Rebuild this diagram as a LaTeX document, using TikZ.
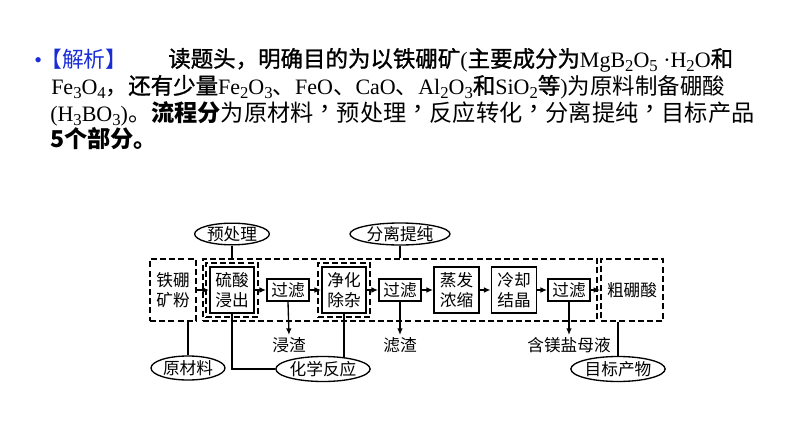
\documentclass[tikz,border=0pt]{standalone}
\usepackage{fontspec}
\setmainfont{Liberation Serif}
\newfontfamily\cjk{Noto Sans CJK SC}
\newfontfamily\cjkm[FakeBold=1.2]{Noto Sans CJK SC}
\newfontfamily\cjktc{Noto Sans CJK TC}
\usetikzlibrary{shapes.geometric,arrows.meta}
\definecolor{jxblue}{RGB}{25,45,215}
\def\csz{17.4}
\newcommand\sbs[1]{\raisebox{-3pt}{\fontsize{12.5}{12}\selectfont #1}}
\newcommand\cc[1]{{\cjk\fontsize{\csz}{17}\selectfont #1}}
\newcommand\cb[1]{{\cjk\bfseries\fontsize{\csz}{17}\selectfont #1}}
\newcommand\cm[1]{{\cjkm\fontsize{\csz}{17}\selectfont #1}}
\newcommand\tcm{{\cjktc\fontsize{\csz}{17}\selectfont \raisebox{2.4pt}{，}}}
\tikzset{
  txt/.style={anchor=base west,inner sep=0pt,font=\fontsize{16.5}{16.5}\selectfont},
  dbox/.style={draw,dashed,dash pattern=on 4.5pt off 2.4pt,line width=1.1pt,inner sep=0pt,align=center},
  sbox/.style={draw,line width=1.3pt,inner sep=0pt,align=center},
  oval/.style={draw,ellipse,line width=1pt,inner sep=0pt},
  lbl/.style={inner sep=1.5pt},
  arr/.style={line width=1pt,-{Latex[length=5pt,width=4.2pt]}},
  ln/.style={line width=1pt},
}
\begin{document}
\begin{tikzpicture}[x=0.75pt,y=-0.75pt,font=\cjk\fontsize{12.5}{15}\selectfont]
\useasboundingbox (0,0) rectangle (794,447);
% ---- text ----
\node[txt,text=jxblue] (bul) at (34,67) {•};
\node[txt,text=jxblue] (jx) at (40,67) {\cc{\fontsize{16.3}{16}\selectfont 【解析】}};
\node[txt] (l1) at (168,67) {\def\csz{16.85}\cm{读题头，明确目的为以铁硼矿}(\cm{主要成分为}MgB\sbs{2}O\sbs{5} ·H\sbs{2}O\cm{和}};
\node[txt] (l2) at (51,94) {\def\csz{16.85}Fe\sbs{3}O\sbs{4}\cc{，}\cm{还有少量}Fe\sbs{2}O\sbs{3}\cc{、}FeO\cc{、}CaO\cc{、}Al\sbs{2}O\sbs{3}\cm{和}SiO\sbs{2}\cm{等})\cc{为原料制备硼酸}};
\node[txt] (l3) at (50,121) {(H\sbs{3}BO\sbs{3})\cc{。}\cb{流程分}\cc{为原材料}\tcm\cc{预处理}\tcm\cc{反应转化}\tcm\cc{分离提纯}\tcm\cc{目标产品}};
\node[txt] (l4) at (50,147) {\cb{5个部分。}};
% ---- diagram boxes ----
\node[dbox,minimum width=34.5pt,minimum height=46.5pt] (tp) at (173,290) {铁硼\\矿粉};
\node[dbox,minimum width=295.5pt,minimum height=46.5pt] (mainbox) at (400,290) {};
\node[dbox,minimum width=46.5pt,minimum height=46.5pt] (cp) at (632,290) {粗硼酸};
\node[dbox,minimum width=39pt,minimum height=40.5pt] (lso) at (232,290) {};
\node[sbox,minimum width=33pt,minimum height=34.5pt] (lsi) at (232,290) {硫酸\\浸出};
\node[sbox,minimum width=31.5pt,minimum height=16.5pt] (gl1) at (288,290) {过滤};
\node[dbox,minimum width=39pt,minimum height=40.5pt] (jho) at (344,290) {};
\node[sbox,minimum width=33pt,minimum height=34.5pt] (jhi) at (344,290) {净化\\除杂};
\node[sbox,minimum width=31.5pt,minimum height=16.5pt] (gl2) at (400,290) {过滤};
\node[sbox,minimum width=33.75pt,minimum height=34pt] (zf) at (456.5,290) {蒸发\\浓缩};
\node[sbox,minimum width=33.75pt,minimum height=34pt] (lq) at (514,290) {冷却\\结晶};
\node[sbox,minimum width=31.5pt,minimum height=16.5pt] (gl3) at (569,290) {过滤};
% ---- outputs ----
\node[lbl] (jz) at (289,345) {浸渣};
\node[lbl] (lz) at (400,345) {滤渣};
\node[lbl] (hm) at (569,345) {含镁盐母液};
% ---- ellipses ----
\node[oval,minimum width=56pt,minimum height=15pt] (yc) at (232,234) {预处理};
\node[oval,minimum width=75pt,minimum height=16.5pt] (fl) at (400,234) {分离提纯};
\node[oval,minimum width=55.5pt,minimum height=18pt] (ycl) at (188,368) {原材料};
\node[oval,minimum width=70.5pt,minimum height=18.75pt] (hx) at (323,369) {化学反应};
\node[oval,minimum width=67.5pt,minimum height=18.75pt] (mb) at (618,369) {目标产物};
% ---- connectors ----
\draw[arr] (tp.east) -- (lsi.west);
\draw[arr] (lsi.east) -- (gl1.west);
\draw[arr] (gl1.east) -- (jhi.west);
\draw[arr] (jhi.east) -- (gl2.west);
\draw[arr] (gl2.east) -- (zf.west);
\draw[arr] (zf.east) -- (lq.west);
\draw[arr] (lq.east) -- (gl3.west);
\draw[arr] (gl3.east) -- (cp.west);
\draw[arr] (gl1.south) -- (jz.north);
\draw[arr] (gl2.south) -- (lz.north);
\draw[arr] (gl3.south) -- (hm.north);
\draw[ln] (yc.south) -- (yc.south |- mainbox.north);
\draw[ln] (fl.south) -- (fl.south |- mainbox.north);
\draw[ln] (ycl.north) -- (ycl.north |- tp.south);
\draw[ln] (lsi.south) -- (lsi.south |- hx.west) -- (hx.west);
\draw[ln,shorten >=-1pt] (jhi.south) -- (jhi.south |- hx.north);
\draw[ln] (mb.north |- cp.south) -- (mb.north);
\end{tikzpicture}
\end{document}
